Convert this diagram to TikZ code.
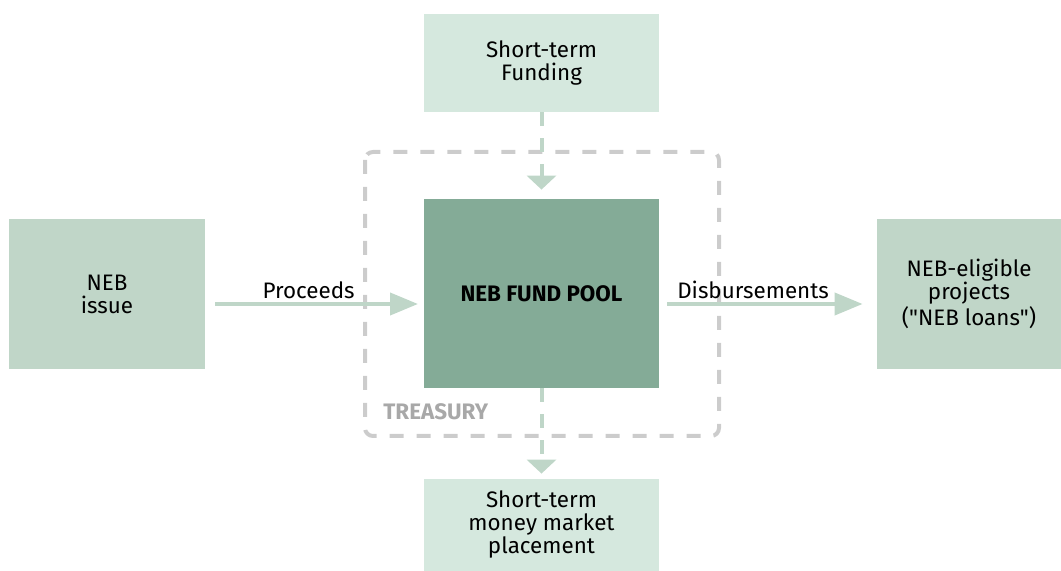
\documentclass[tikz,border=0pt]{standalone}
\usepackage{fontspec}
\setmainfont{Fira Sans}
\usetikzlibrary{arrows.meta}

\definecolor{boxlight}{HTML}{D5E8DE}
\definecolor{boxmid}{HTML}{C0D6C8}
\definecolor{boxdark}{HTML}{84AB97}
\definecolor{flowgreen}{HTML}{BFD6C8}
\definecolor{treasurygray}{HTML}{CCCCCC}
\definecolor{treasurytext}{HTML}{A8A8A8}

\tikzset{
  fundbox/.style={rectangle, inner sep=0pt, align=center, font=\fontsize{11.2}{11.5}\selectfont},
  flowarrow/.style={draw=flowgreen, line width=2pt, -{Triangle[length=14pt,width=11pt]}},
  cashflow/.style={draw=flowgreen, line width=2pt, dash pattern=on 7pt off 6pt, -{Triangle[length=7pt,width=14.5pt]}},
  flowlabel/.style={font=\fontsize{11.2}{11.5}\selectfont, anchor=base, yshift=2.5pt}
}

\begin{document}
\begin{tikzpicture}[x=0.5pt, y=-0.5pt]
      \useasboundingbox (0,0) rectangle (1061,571);

      % treasury frame
      \draw[treasurygray, line width=2pt, dash pattern=on 7pt off 6.5pt, rounded corners=4pt]
      (365,152) rectangle (719,436);
      \node[anchor=west, inner xsep=0pt, text=treasurytext, font=\fontsize{11.2}{11.5}\selectfont\bfseries] (treasury) at (383,412) {TREASURY};

      \node[fundbox, fill=boxlight, minimum width=117.5pt, minimum height=49pt] (funding) at (541.5,63) {Short-term\\Funding};
      \node[fundbox, fill=boxdark, minimum width=117.5pt, minimum height=94.5pt, font=\fontsize{11.2}{11.5}\selectfont\bfseries] (pool) at (541.5,293.5) {NEB FUND POOL};
      \node[fundbox, fill=boxmid, minimum width=98pt, minimum height=75pt] (issue) at (107,294) {NEB\\issue};
      \node[fundbox, fill=boxmid, minimum width=92pt, minimum height=75pt] (projects) at (969,294) {NEB-eligible\\projects\\(\textquotedbl NEB loans\textquotedbl)};
      \node[fundbox, fill=boxlight, minimum width=117.5pt, minimum height=46pt] (placement) at (541.5,525) {Short-term\\money market\\placement};

      \coordinate (pin) at (418,304);
      \coordinate (pout) at (667,304);

      \draw[flowarrow] (issue.east |- pin) ++(10,0) -- (pin) node[flowlabel, pos=0.46] {Proceeds};
      \draw[flowarrow] (pout) -- ([xshift=-7pt]projects.west |- pout) node[flowlabel, pos=0.44] {Disbursements};

      \draw[cashflow] (funding.south) -- ([yshift=4.5pt]pool.north);
      \draw[cashflow] (pool.south) -- ([yshift=2.5pt]placement.north);

      % \draw[help lines, step=50] (0,0) grid (1061,571);
    \end{tikzpicture}
\end{document}
